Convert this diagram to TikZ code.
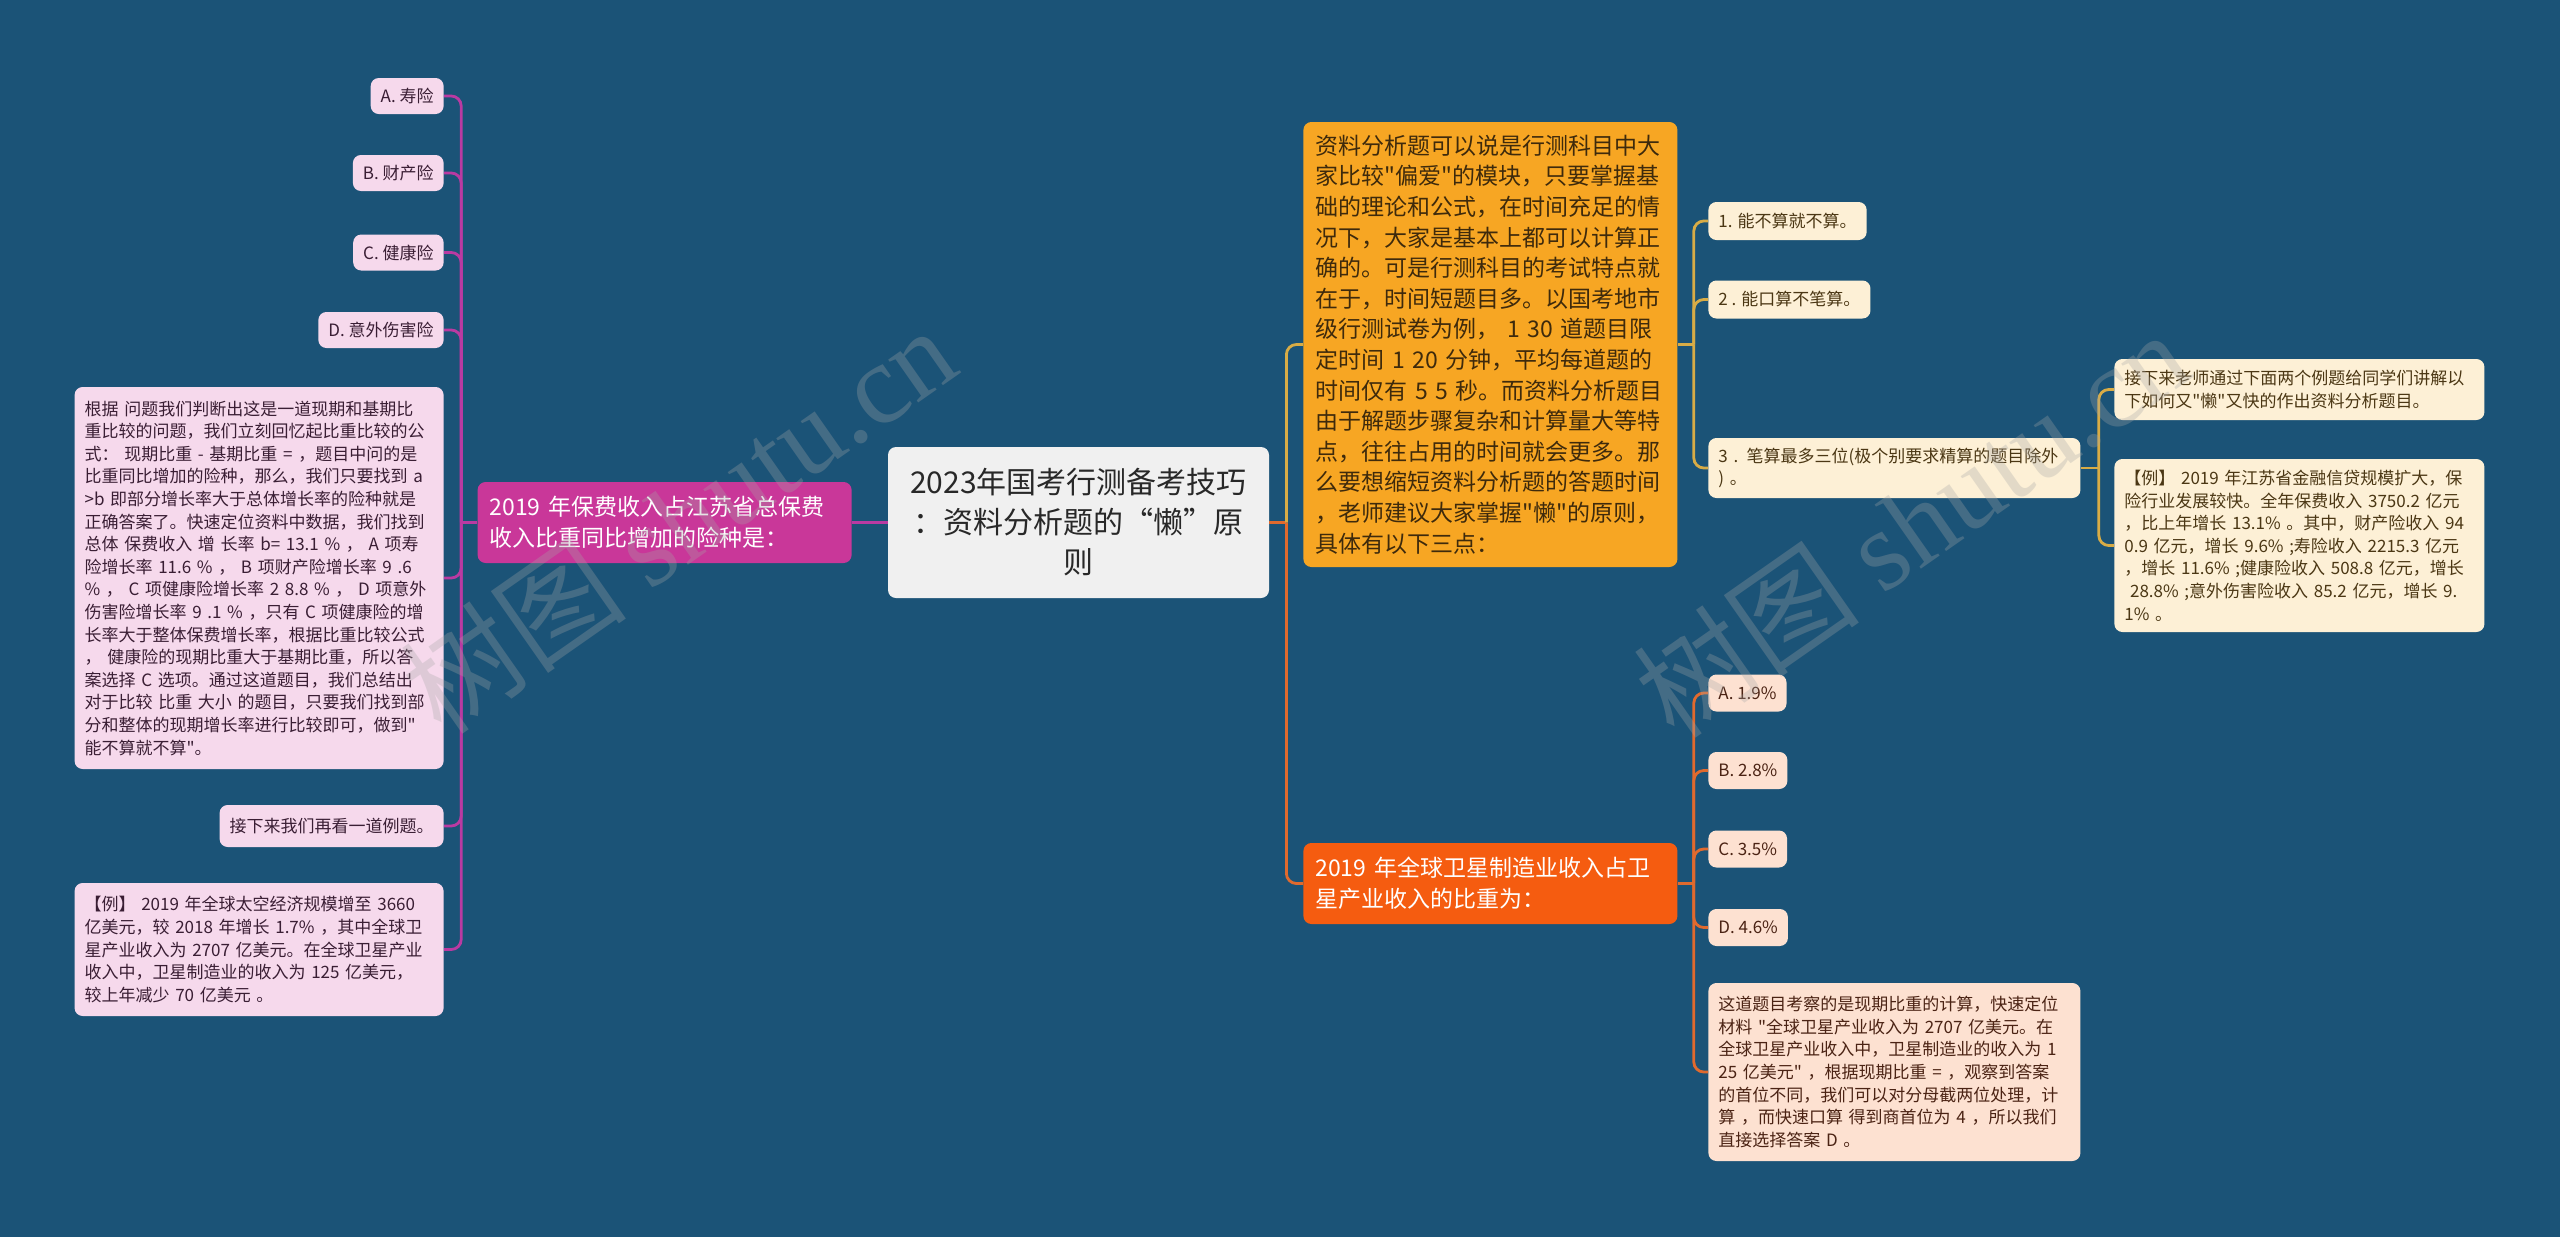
\documentclass[tikz,border=0pt]{standalone}
\usepackage{fontspec}
\setmainfont{Noto Sans CJK SC}[Ligatures=TeXOff]
\newfontfamily\wmfont{Liberation Serif}
\usetikzlibrary{positioning}

\definecolor{bgblue}{RGB}{27,83,119}
\definecolor{rootfill}{RGB}{240,240,240}
\definecolor{roottext}{RGB}{40,40,40}
\definecolor{magfill}{RGB}{201,55,153}
\definecolor{magline}{RGB}{186,58,162}
\definecolor{pinkfill}{RGB}{246,217,236}
\definecolor{pinktext}{RGB}{58,30,52}
\definecolor{orgfill}{RGB}{247,166,35}
\definecolor{orgtext}{RGB}{62,42,12}
\definecolor{goldline}{RGB}{216,172,70}
\definecolor{creamfill}{RGB}{253,240,214}
\definecolor{creamtext}{RGB}{75,55,20}
\definecolor{redfill}{RGB}{245,92,16}
\definecolor{redline}{RGB}{224,106,46}
\definecolor{peachfill}{RGB}{253,225,209}
\definecolor{peachtext}{RGB}{75,35,20}

\tikzset{
  box/.style={rounded corners=4pt, inner xsep=5pt, inner ysep=0pt, align=left},
  small/.style={font=\fontsize{8.5}{11.3}\selectfont},
  pinkleaf/.style={box, small, fill=pinkfill, text=pinktext, minimum height=18pt},
  creamleaf/.style={box, small, fill=creamfill, text=creamtext, minimum height=19pt},
  peachleaf/.style={box, small, fill=peachfill, text=peachtext, minimum height=18.5pt},
  topic/.style={box, inner xsep=6pt, text width=175pt, font=\fontsize{11.5}{15.3}\selectfont},
  link/.style={line width=1.4pt, rounded corners=5pt},
  wm/.style={font=\fontsize{57}{57}\selectfont, text=gray!70, text opacity=0.3, rotate=35}
}

\begin{document}
\begin{tikzpicture}[x=0.5pt, y=-0.5pt]
\fill[bgblue] (0,0) rectangle (2560,1237);
\useasboundingbox (0,0) rectangle (2560,1237);

% centre
\node[box, fill=rootfill, text=roottext, align=center, text width=180.5pt, minimum height=75.5pt,
  font=\fontsize{15}{20}\selectfont] (root) at (1078.5,522.5)
  {2023年国考行测备考技巧\\：资料分析题的“懒”原\\则};

% left branch
\node[topic, fill=magfill, text=white, minimum height=40.5pt, anchor=east] (baofei) at (852,522.5)
  {2019 年保费收入占江苏省总保费\\收入比重同比增加的险种是：};
\foreach \nm/\yy/\txt in {la/96/A. 寿险, lb/173/B. 财产险, lc/252.5/C. 健康险, ld/330/D. 意外伤害险}
  \node[pinkleaf, anchor=east] (\nm) at (444,\yy) {\txt};
\node[pinkleaf, anchor=east, text width=174.5pt, minimum height=191pt] (ljiexi) at (444,578)
  {根据 问题我们判断出这是一道现期和基期比\\
   重比较的问题，我们立刻回忆起比重比较的公\\
   式： 现期比重 - 基期比重 = ，题目中问的是\\
   比重同比增加的险种，那么，我们只要找到 a\\
   >b 即部分增长率大于总体增长率的险种就是\\
   正确答案了。快速定位资料中数据，我们找到\\
   总体 保费收入 增 长率 b= 13.1 \% ， A 项寿\\
   险增长率 11.6 \% ， B 项财产险增长率 9 .6\\
   \% ， C 项健康险增长率 2 8.8 \% ， D 项意外\\
   伤害险增长率 9 .1 \% ，只有 C 项健康险的增\\
   长率大于整体保费增长率，根据比重比较公式\\
   ， 健康险的现期比重大于基期比重，所以答\\
   案选择 C 选项。通过这道题目，我们总结出\\
   对于比较 比重 大小 的题目，只要我们找到部\\
   分和整体的现期增长率进行比较即可，做到"\\
   能不算就不算"。};
\node[pinkleaf, anchor=east, minimum height=21pt] (lnext) at (444,826) {接下来我们再看一道例题。};
\node[pinkleaf, anchor=east, text width=174.5pt, minimum height=66.5pt] (lli) at (444,949.5)
  {【例】 2019 年全球太空经济规模增至 3660\\
   亿美元，较 2018 年增长 1.7\% ，其中全球卫\\
   星产业收入为 2707 亿美元。在全球卫星产业\\
   收入中，卫星制造业的收入为 125 亿美元，\\
   较上年减少 70 亿美元 。};

\coordinate (lj) at ([xshift=-8pt]baofei.west);
\draw[link, magline] (root.west) -- (baofei.east);
\draw[link, magline] (baofei.west) -- (lj);
\foreach \c in {la,lb,lc,ld,ljiexi,lnext,lli}
  \draw[link, magline] (lj) |- (\c.east);

% right branch: tips
\node[topic, fill=orgfill, text=orgtext, minimum height=222.5pt, anchor=west] (jiqiao) at (1303,344.5)
  {资料分析题可以说是行测科目中大\\
   家比较"偏爱"的模块，只要掌握基\\
   础的理论和公式，在时间充足的情\\
   况下，大家是基本上都可以计算正\\
   确的。可是行测科目的考试特点就\\
   在于，时间短题目多。以国考地市\\
   级行测试卷为例， 1 30 道题目限\\
   定时间 1 20 分钟，平均每道题的\\
   时间仅有 5 5 秒。而资料分析题目\\
   由于解题步骤复杂和计算量大等特\\
   点，往往占用的时间就会更多。那\\
   么要想缩短资料分析题的答题时间\\
   ，老师建议大家掌握"懒"的原则，\\
   具体有以下三点：};
\node[creamleaf, anchor=west] (o1) at (1708,221) {1. 能不算就不算。};
\node[creamleaf, anchor=west] (o2) at (1708,299.5) {2 . 能口算不笔算。};
\node[creamleaf, anchor=west, text width=176pt, minimum height=30pt] (o3) at (1708,468)
  {3 . 笔算最多三位(极个别要求精算的题目除外\\) 。};
\node[creamleaf, anchor=west, text width=175pt, minimum height=30.5pt] (o3a) at (2114,389.5)
  {接下来老师通过下面两个例题给同学们讲解以\\下如何又"懒"又快的作出资料分析题目。};
\node[creamleaf, anchor=west, text width=175pt, minimum height=86.5pt] (o3b) at (2114,545.5)
  {【例】 2019 年江苏省金融信贷规模扩大，保\\
   险行业发展较快。全年保费收入 3750.2 亿元\\
   ，比上年增长 13.1\% 。其中，财产险收入 94\\
   0.9 亿元，增长 9.6\% ;寿险收入 2215.3 亿元\\
   ，增长 11.6\% ;健康险收入 508.8 亿元，增长\\
   \ 28.8\% ;意外伤害险收入 85.2 亿元，增长 9.\\
   1\% 。};

% right branch: example
\node[topic, fill=redfill, text=white, minimum height=40.5pt, anchor=west] (weixing) at (1303,883.5)
  {2019 年全球卫星制造业收入占卫\\星产业收入的比重为：};
\foreach \nm/\yy/\txt in {ra/693/A. 1.9\%, rb/770.5/B. 2.8\%, rc/849/C. 3.5\%, rd/927.5/D. 4.6\%}
  \node[peachleaf, anchor=west] (\nm) at (1708,\yy) {\txt};
\node[peachleaf, anchor=west, text width=176pt, minimum height=89pt] (rjiexi) at (1708,1072)
  {这道题目考察的是现期比重的计算，快速定位\\
   材料 "全球卫星产业收入为 2707 亿美元。在\\
   全球卫星产业收入中，卫星制造业的收入为 1\\
   25 亿美元" ，根据现期比重 = ，观察到答案\\
   的首位不同，我们可以对分母截两位处理，计\\
   算 ，而快速口算 得到商首位为 4 ，所以我们\\
   直接选择答案 D 。};

% connectors on the right
\coordinate (rj) at ([xshift=8.5pt]root.east);
\draw[link, redline] (root.east) -- (rj);
\draw[link, goldline] (rj) |- (jiqiao.west);
\draw[link, redline] (rj) |- (weixing.west);
\coordinate (oj) at ([xshift=8pt]jiqiao.east);
\draw[link, goldline] (jiqiao.east) -- (oj);
\foreach \c in {o1,o2,o3}
  \draw[link, goldline] (oj) |- (\c.west);
\coordinate (sj) at ([xshift=9pt]o3.east);
\draw[link, goldline] (o3.east) -- (sj);
\foreach \c in {o3a,o3b}
  \draw[link, goldline] (sj) |- (\c.west);
\coordinate (wj) at ([xshift=8pt]weixing.east);
\draw[link, redline] (weixing.east) -- (wj);
\foreach \c in {ra,rb,rc,rd,rjiexi}
  \draw[link, redline] (wj) |- (\c.west);

% watermark
\node[wm] (wmleft) at (678,519) {树图 {\wmfont shutu.cn}};
\node[wm] (wmright) at (1911,523) {树图 {\wmfont shutu.cn}};
\end{tikzpicture}
\end{document}
